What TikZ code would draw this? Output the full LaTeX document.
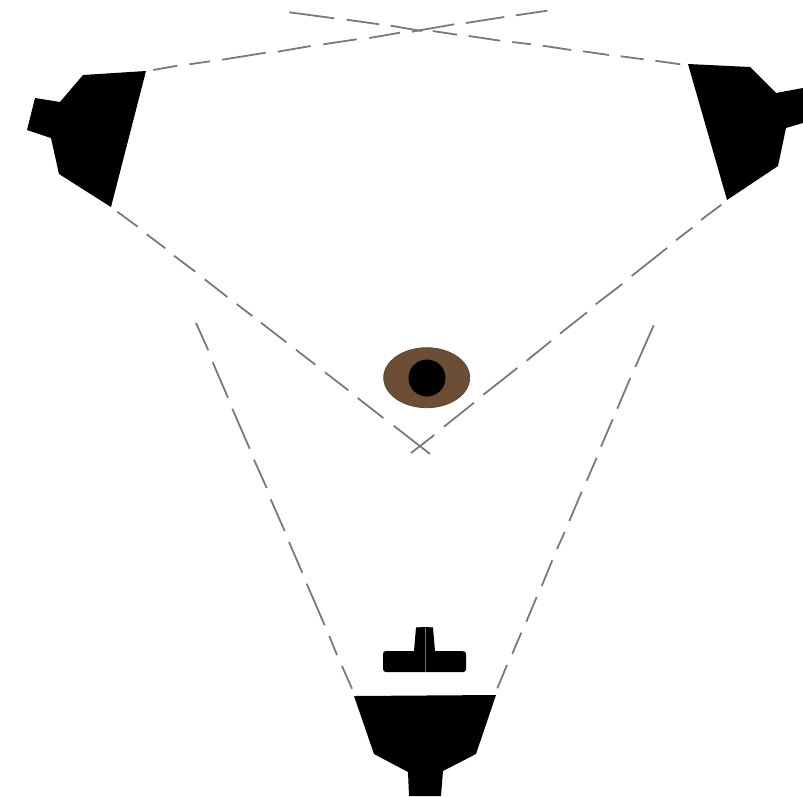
\documentclass[tikz,border=0pt]{standalone}
\definecolor{dashgray}{HTML}{7A7A7A}
\definecolor{irisbrown}{HTML}{6B4E35}
\definecolor{irisedge}{HTML}{5C4A36}
\tikzset{
  dashline/.style={draw=dashgray,line width=1.8pt,line cap=butt},
  solidblack/.style={fill=black,draw=none}
}
\begin{document}
\begin{tikzpicture}[x=1pt,y=-1pt]
\useasboundingbox (0,0) rectangle (803,796);
\fill[white] (0,0) rectangle (803,796);
% speakers
\path[solidblack] (146,71) -- (83,75) -- (60,102) -- (35,98) -- (27,130) -- (51,138) -- (59,174) -- (111,207) -- cycle;
\path[solidblack] (688,64) -- (750,67) -- (776,93) -- (803,88) -- (803,123) -- (786,128) -- (778,166) -- (727,200) -- cycle;
\path[solidblack] (354,696) -- (496,695) -- (476,754) -- (443,771) -- (441,796) -- (409,796) -- (408,772) -- (374,754) -- cycle;
% knob
\path[solidblack] (416,627.5) .. controls (420,627) and (429,627) .. (433,627.5) -- (435,651) -- (462,651) .. controls (465,651) and (466,652) .. (466,654) -- (466,669) .. controls (466,671) and (465,672) .. (463,672) -- (386,672) .. controls (384,672) and (383,671) .. (383,669) -- (383,654) .. controls (383,652) and (384,651) .. (386,651) -- (414,651) -- cycle;
\draw[draw=black!55,line width=0.4pt] (424.7,628) -- (424.7,672);
% eye
\fill[irisbrown,draw=irisedge,line width=0.8pt] (426.7,377.7) ellipse [x radius=43,y radius=30];
\fill[black] (427,378) circle [radius=18.5];
% dashed lines, dash by dash
\path[dashline]
  (153.3,70) -- (177.3,65.7) (189.3,64.3) -- (210,61.3) (222,59.7) -- (265.7,52.7)
  (277.7,51.7) -- (310.7,46) (323.3,44.3) -- (356.7,39.3) (369.3,38) -- (400,32.7)
  (411.7,31.7) -- (454.3,24.3) (466,23) -- (504.3,17) (516,15.3) -- (547.3,10.7);
\path[dashline]
  (289.3,12.3) -- (334.3,18.3) (346.7,19.7) -- (379.3,24.3) (390.7,25.7) -- (421.7,31)
  (432.7,31) -- (457,34.7) (468.7,36) -- (500.3,40.7) (512.3,42) -- (531,44.3)
  (542.7,45.7) -- (571,50) (583,51.3) -- (609,55) (620.7,56.3) -- (643.7,59.3)
  (655.3,60.7) -- (680.3,64.3);
\path[dashline]
  (117.3,211.7) -- (137.7,226.7) (146.7,234.3) -- (165.3,248.3) (174,255.7) -- (195.3,271.7)
  (204.7,279.3) -- (227.3,297) (236.7,304) -- (252.3,316) (261,322.7) -- (286.3,342.3)
  (296,349.7) -- (315.3,364.7) (325,372.3) -- (348.3,390.3) (357.7,398) -- (383.3,418)
  (393.7,425.7) -- (430,454);
\path[dashline]
  (721.3,204.7) -- (701,220) (692.3,227.7) -- (676,240.3) (667,248) -- (631.7,276)
  (622.3,284) -- (595.7,304.3) (587,312.3) -- (560,333.7) (551,341) -- (526.7,360.7)
  (517.3,368) -- (483.3,394.7) (474,402.7) -- (444,426.7) (434.3,435) -- (411,453);
\path[dashline]
  (196,323) -- (208.3,350.3) (212.7,362.3) -- (228,397.7) (232.3,408.7) -- (249.7,448.7)
  (254,459.7) -- (266.7,488) (270.7,499.3) -- (284.7,531) (289,542) -- (302.3,572.7)
  (306.7,583.7) -- (324.7,625.3) (329.3,636) -- (337,655) (342,666) -- (352,688.7);
\path[dashline]
  (653.7,325.3) -- (635.3,367) (630.3,378) -- (617.3,408.7) (612.7,419.3) -- (601,446.7)
  (596.7,457.7) -- (586.7,480.7) (581.7,491.7) -- (569.3,521) (564.7,532) -- (557,549)
  (552.3,560.3) -- (541.7,586) (536.7,597) -- (526.3,621.7) (521.3,632.7) -- (512.3,653.7)
  (507,665) -- (497.3,688.3);
\end{tikzpicture}
\end{document}
